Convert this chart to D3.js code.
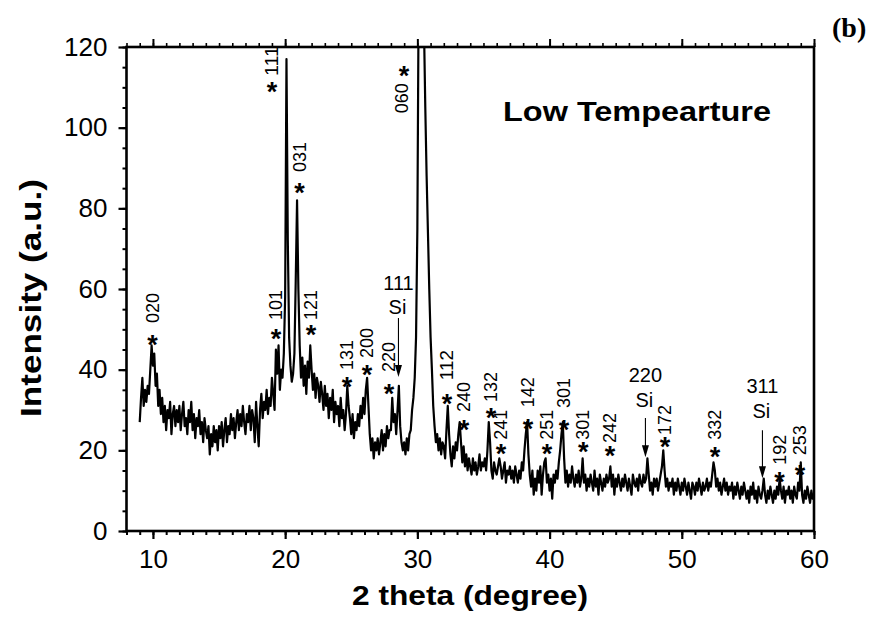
<!DOCTYPE html>
<html><head><meta charset="utf-8">
<script src="https://cdn.jsdelivr.net/npm/d3@7"></script>
<style>body{margin:0;background:#fff} svg{display:block}</style>
</head><body><svg id="c" width="876" height="618"></svg>
<script>
// XRD pattern sampled every 0.1 degree from 9.0 to 60.0 (2 theta)
const xStart = 9, xStep = 0.1;
const intensity = [
 27,33,38,31,35,32,36,34,40,46,
 41,44,36,39,31,35,29,33,27,31,
 25,30,28,32,24,29,31,26,30,27,
 31,25,29,32,26,28,24,30,27,32,
 25,29,23,28,26,30,24,27,22,28,
 25,23,26,19,24,21,26,22,25,20,
 26,23,27,21,25,28,22,26,24,29,
 25,28,23,27,30,25,29,26,31,27,
 24,29,27,31,25,30,28,22,32,26,
 21,30,34,28,32,30,35,29,33,31,
 38,34,30,45,39,46,35,40,38,44,
 58,117,72,48,41,37,39,44,62,82,
 60,46,38,43,36,41,34,42,38,46,
 40,35,39,33,38,36,32,37,34,30,
 36,31,34,28,33,30,35,27,32,29,
 31,26,33,28,30,25,29,36,31,28,
 24,29,23,27,25,29,26,31,28,33,
 29,35,38,31,24,20,23,18,22,20,
 23,19,22,25,20,24,21,26,23,25,
 25,33,27,29,24,30,36,26,22,20,
 22,19,23,20,24,25,30,33,38,48,
 75,135,260,400,420,125,105,88,74,60,
 48,40,31,26,22,24,20,23,19,22,
 21,18,25,31,24,19,16,21,18,22,
 20,24,27,22,17,21,16,19,15,18,
 16,14,18,15,17,14,16,19,15,17,
 16,18,15,20,27,22,15,13,17,15,
 14,16,18,16,13,15,17,12,15,14,
 16,13,15,12,16,14,12,15,13,17,
 15,20,24,27,19,14,11,15,9,13,
 10,15,12,16,9,14,17,18,12,14,
 10,13,8,14,12,15,13,17,20,24,
 27,18,12,15,11,14,12,16,13,11,
 14,12,15,11,13,18,12,14,10,13,
 11,14,12,10,15,11,13,9,14,12,
 10,13,11,14,12,13,16,11,14,9,
 13,11,14,12,10,13,11,14,12,10,
 13,11,9,14,12,11,13,10,14,12,
 11,14,12,13,18,14,10,12,9,13,
 11,13,10,12,14,16,20,15,11,13,
 10,12,11,13,9,12,10,13,11,9,
 12,10,13,11,9,12,10,8,12,11,
 9,12,10,13,11,9,12,10,11,13,
 10,12,11,14,17,15,11,13,10,12,
 9,11,13,10,12,9,11,10,12,8,
 11,9,12,10,8,11,9,12,10,8,
 10,7,11,9,12,8,10,7,11,9,
 8,10,13,9,7,10,8,11,9,7,
 10,8,11,9,13,10,8,11,7,10,
 9,11,8,10,7,11,9,8,12,10,
 17,9,7,10,8,11,9,7,10,8,
 9
];
const xMajorTicks = [10, 20, 30, 40, 50, 60];
const yMajorTicks = [0, 20, 40, 60, 80, 100, 120];
const xMinorTicks = d3.range(8, 61, 1);
const yMinorTicks = d3.range(0, 121, 5);
// [hkl, x, star centre y, label bottom y]  (data units)
const peakLabels = [
 ["020", 9.97, 47.9, 51.6],
 ["111", 19.00, 110.6, 112.8],
 ["031", 21.09, 85.5, 89.0],
 ["101", 19.31, 49.4, 52.3],
 ["121", 21.96, 50.3, 52.3],
 ["131", 24.68, 37.4, 39.9],
 ["200", 26.19, 40.4, 42.9],
 ["220", 27.85, 35.7, 39.4],
 ["112", 32.24, 33.2, 37.4],
 ["240", 33.53, 26.8, 29.5],
 ["132", 35.57, 29.8, 32.0],
 ["241", 36.32, 20.8, 22.6],
 ["142", 38.37, 27.0, 30.7],
 ["251", 39.81, 20.8, 22.6],
 ["301", 41.10, 26.8, 30.5],
 ["301", 42.54, 21.3, 22.6],
 ["242", 44.57, 20.3, 21.8],
 ["172", 48.73, 22.6, 23.8],
 ["332", 52.51, 20.1, 22.6],
 ["192", 57.39, 13.9, 16.4],
 ["253", 58.94, 15.6, 18.8]
];
// label with star above it: [hkl, x, label bottom y, star centre y]
const topLabels = [["060", 28.84, 103.6, 114.5]];
// Si reflections: [hkl, x, hkl baseline y, "Si" baseline y, arrow start y, arrow tip y]
const siLabels = [
 ["111", 28.57, 59.75, 53.8, 52.8, 38.2],
 ["220", 47.25, 36.9, 30.7, 28.0, 18.3],
 ["311", 56.10, 34.2, 28.0, 25.0, 13.1]
];
const xTitle = "2 theta (degree)";
const yTitle = "Intensity (a.u.)";
const noteText = "Low Tempearture";
const panelText = "(b)";

const svg = d3.select("#c");
const FONT = "'Liberation Sans', Arial, Helvetica, sans-serif";
const x = d3.scaleLinear().domain([8, 60]).range([126.5, 814]);
const y = d3.scaleLinear().domain([0, 120]).range([531, 47]);

svg.append("defs").append("clipPath").attr("id", "clip")
  .append("rect").attr("x", x(8)).attr("y", y(120)).attr("width", x(60) - x(8)).attr("height", y(0) - y(120));

// curve
const line = d3.line().x((d, i) => x(xStart + i * xStep)).y(d => y(d));
svg.append("path").datum(intensity).attr("d", line)
  .attr("clip-path", "url(#clip)")
  .attr("fill", "none").attr("stroke", "#000").attr("stroke-width", 2.2)
  .attr("stroke-linejoin", "round");

function styleAxis(g, w) {
  g.select(".domain").remove();
  g.selectAll(".tick line").attr("stroke", "#000").attr("stroke-width", w);
  g.selectAll(".tick text").attr("fill", "#000").style("font-family", FONT).style("font-size", "26px");
}
// bottom
svg.append("g").attr("transform", `translate(0,${y(0)})`)
  .call(d3.axisBottom(x).tickValues(xMinorTicks).tickSize(4).tickFormat(""))
  .call(g => styleAxis(g, 2));
svg.append("g").attr("transform", `translate(0,${y(0)})`)
  .call(d3.axisBottom(x).tickValues(xMajorTicks).tickSize(8).tickPadding(10.5).tickFormat(d3.format("d")))
  .call(g => styleAxis(g, 2.2));
// top
svg.append("g").attr("transform", `translate(0,${y(120)})`)
  .call(d3.axisTop(x).tickValues(xMinorTicks).tickSize(4).tickFormat(""))
  .call(g => styleAxis(g, 1.6));
svg.append("g").attr("transform", `translate(0,${y(120)})`)
  .call(d3.axisTop(x).tickValues(xMajorTicks).tickSize(8).tickFormat(""))
  .call(g => styleAxis(g, 2));
// left
svg.append("g").attr("transform", `translate(${x(8)},0)`)
  .call(d3.axisLeft(y).tickValues(yMinorTicks).tickSize(4).tickFormat(""))
  .call(g => styleAxis(g, 2));
svg.append("g").attr("transform", `translate(${x(8)},0)`)
  .call(d3.axisLeft(y).tickValues(yMajorTicks).tickSize(8).tickPadding(11).tickFormat(d3.format("d")))
  .call(g => styleAxis(g, 2.2));
// frame
svg.append("rect").attr("x", x(8)).attr("y", y(120)).attr("width", x(60) - x(8)).attr("height", y(0) - y(120))
  .attr("fill", "none").attr("stroke", "#000").attr("stroke-width", 2.6);

// titles
svg.append("text").attr("x", 470).attr("y", 605).attr("text-anchor", "middle")
  .attr("textLength", 236).attr("lengthAdjust", "spacingAndGlyphs")
  .style("font-family", FONT).style("font-weight", "bold").style("font-size", "28px").text(xTitle);
svg.append("text").attr("transform", "translate(41,298) rotate(-90)").attr("text-anchor", "middle")
  .attr("textLength", 238).attr("lengthAdjust", "spacingAndGlyphs")
  .style("font-family", FONT).style("font-weight", "bold").style("font-size", "30px").text(yTitle);
svg.append("text").attr("x", 503).attr("y", 120.5)
  .attr("textLength", 268).attr("lengthAdjust", "spacingAndGlyphs")
  .style("font-family", FONT).style("font-weight", "bold").style("font-size", "27px").text(noteText);
svg.append("text").attr("x", 832).attr("y", 37)
  .style("font-family", "'Liberation Serif', 'Times New Roman', serif").style("font-weight", "bold").style("font-size", "28px").text(panelText);

// peak labels
const ann = svg.append("g");
function star(px, py) {
  ann.append("text").attr("x", px).attr("y", py + 16).attr("text-anchor", "middle")
    .style("font-family", FONT).style("font-weight", "bold").style("font-size", "27px").text("*");
}
function vlabel(txt, px, pyBottom) {
  ann.append("text").attr("transform", `translate(${px},${pyBottom}) rotate(-90)`)
    .attr("dy", "0.36em").attr("text-anchor", "start")
    .attr("textLength", 30).attr("lengthAdjust", "spacingAndGlyphs")
    .style("font-family", FONT).style("font-size", "17.5px").text(txt);
}
peakLabels.forEach(([h, xv, sy, by]) => {
  star(x(xv), y(sy));
  vlabel(h, x(xv), y(by));
});
topLabels.forEach(([h, xv, by, sy]) => {
  vlabel(h, x(xv), y(by));
  star(x(xv) + 2, y(sy));
});
// Si labels with arrows
siLabels.forEach(([h, xv, hy, sy, a0, a1]) => {
  const px = x(xv);
  ann.append("text").attr("x", px).attr("y", y(hy)).attr("text-anchor", "middle")
    .style("font-family", FONT).style("font-size", "20px").text(h);
  ann.append("text").attr("x", px - 1).attr("y", y(sy)).attr("text-anchor", "middle")
    .style("font-family", FONT).style("font-size", "20px").text("Si");
  ann.append("line").attr("x1", px).attr("x2", px).attr("y1", y(a0)).attr("y2", y(a1) - 10)
    .attr("stroke", "#000").attr("stroke-width", 1.1);
  const t = y(a1);
  ann.append("path").attr("d", `M${px - 3.5},${t - 12} L${px + 3.5},${t - 12} L${px},${t} Z`).attr("fill", "#000");
});
</script></body></html>
